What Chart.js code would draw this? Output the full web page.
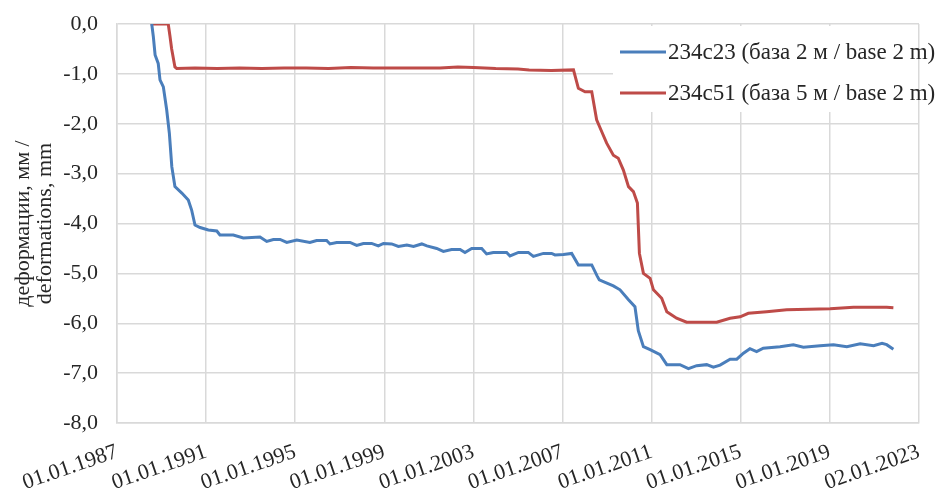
<!DOCTYPE html>
<html>
<head>
<meta charset="utf-8">
<script src="https://cdn.jsdelivr.net/npm/chart.js@4"></script>
<style>
  body { margin: 0; background: #fff; }
  #wrap { width: 941px; height: 490px; position: relative; }
</style>
</head>
<body>
<div id="wrap"><canvas id="chart"></canvas></div>
<script>
// x values are decimal years, y values are deformation in mm
const blueYears = [1988.56, 1988.63, 1988.71, 1988.85, 1988.93, 1989.08, 1989.23, 1989.35, 1989.46, 1989.60,
    1989.91, 1990.20, 1990.35, 1990.50, 1990.73, 1991.10, 1991.48, 1991.62, 1992.22, 1992.67,
    1993.42, 1993.72, 1994.02, 1994.32, 1994.62, 1995.07, 1995.66, 1995.96, 1996.41, 1996.56,
    1996.86, 1997.46, 1997.76, 1998.06, 1998.43, 1998.73, 1998.96, 1999.33, 1999.63, 2000.01,
    2000.31, 2000.68, 2000.91, 2001.35, 2001.65, 2002.02, 2002.40, 2002.62, 2002.92, 2003.37,
    2003.59, 2003.89, 2004.49, 2004.64, 2005.02, 2005.46, 2005.69, 2006.14, 2006.51, 2006.66,
    2007.04, 2007.41, 2007.71, 2008.31, 2008.55, 2008.65, 2008.91, 2009.28, 2009.58, 2009.96,
    2010.25, 2010.40, 2010.63, 2010.93, 2011.38, 2011.68, 2012.27, 2012.65, 2013.02, 2013.47,
    2013.77, 2014.07, 2014.52, 2014.82, 2015.12, 2015.41, 2015.71, 2016.01, 2016.76, 2017.36,
    2017.81, 2018.56, 2019.16, 2019.76, 2020.36, 2020.96, 2021.34, 2021.55, 2021.85];
const blueVals = [0.0, -0.25, -0.62, -0.79, -1.12, -1.26, -1.72, -2.19, -2.86, -3.26,
    -3.39, -3.53, -3.73, -4.03, -4.08, -4.13, -4.15, -4.23, -4.23, -4.29,
    -4.27, -4.36, -4.32, -4.32, -4.38, -4.33, -4.38, -4.34, -4.34, -4.41,
    -4.38, -4.38, -4.44, -4.40, -4.40, -4.45, -4.40, -4.41, -4.46, -4.43,
    -4.46, -4.41, -4.45, -4.50, -4.56, -4.52, -4.52, -4.58, -4.50, -4.50,
    -4.61, -4.58, -4.58, -4.65, -4.58, -4.58, -4.66, -4.60, -4.60, -4.63,
    -4.62, -4.60, -4.83, -4.83, -5.05, -5.13, -5.18, -5.25, -5.33, -5.53,
    -5.67, -6.15, -6.47, -6.53, -6.63, -6.83, -6.83, -6.91, -6.85, -6.83,
    -6.88, -6.84, -6.72, -6.72, -6.60, -6.51, -6.57, -6.50, -6.47, -6.43,
    -6.48, -6.45, -6.43, -6.47, -6.41, -6.45, -6.40, -6.43, -6.52];

const redYears = [1988.51, 1989.30, 1989.38, 1989.45, 1989.60, 1989.68, 1990.5, 1991.5, 1992.5, 1993.5,
    1994.5, 1995.5, 1996.5, 1997.5, 1998.5, 1999.5, 2000.5, 2001.5, 2002.3, 2003.0,
    2004.0, 2005.0, 2005.5, 2006.5, 2007.49, 2007.71, 2008.01, 2008.31, 2008.53, 2008.76,
    2008.98, 2009.28, 2009.50, 2009.73, 2009.96, 2010.18, 2010.36, 2010.45, 2010.63, 2010.93,
    2011.08, 2011.45, 2011.68, 2012.12, 2012.57, 2013.92, 2014.52, 2014.97, 2015.34, 2016.16,
    2017.06, 2019.01, 2020.06, 2021.55, 2021.85];
const redVals = [0.0, 0.0, -0.25, -0.49, -0.86, -0.89, -0.88, -0.89, -0.88, -0.89,
    -0.88, -0.88, -0.89, -0.87, -0.88, -0.88, -0.88, -0.88, -0.86, -0.87,
    -0.89, -0.90, -0.92, -0.93, -0.92, -1.29, -1.36, -1.36, -1.92, -2.16,
    -2.39, -2.63, -2.69, -2.93, -3.26, -3.36, -3.59, -4.60, -5.00, -5.10,
    -5.33, -5.50, -5.77, -5.90, -5.98, -5.98, -5.90, -5.87, -5.80, -5.77,
    -5.73, -5.71, -5.68, -5.68, -5.69];

const xTickYears = [1987, 1991, 1995, 1999, 2003, 2007, 2011, 2015, 2019, 2023];
const xTickLabels = ["01.01.1987", "01.01.1991", "01.01.1995", "01.01.1999", "01.01.2003",
    "01.01.2007", "01.01.2011", "01.01.2015", "01.01.2019", "02.01.2023"];

const seriesLabels = ["234c23 (база 2 м / base 2 m)", "234c51 (база 5 м / base 2 m)"];
const seriesColors = ["#4a7ebb", "#be4b48"];

const toPoints = (xs, ys) => xs.map((x, i) => ({x: x, y: ys[i]}));

Chart.defaults.font.family = "'Liberation Serif', 'Times New Roman', serif";
Chart.defaults.color = "#262626";

// legend drawn inside the plot, top right, on white box
const boxLegend = {
    id: 'boxLegend',
    afterDatasetsDraw(chart) {
        const ctx = chart.ctx;
        const area = chart.chartArea;
        ctx.save();
        ctx.fillStyle = "#fff";
        ctx.fillRect(613, area.top + 2, area.right - 613 - 1, 86);
        ctx.font = "23px 'Liberation Serif'";
        ctx.textBaseline = "middle";
        chart.data.datasets.forEach((ds, i) => {
            const y = area.top + 28 + i * 41;
            ctx.strokeStyle = ds.borderColor;
            ctx.lineWidth = 3;
            ctx.beginPath();
            ctx.moveTo(620, y);
            ctx.lineTo(666, y);
            ctx.stroke();
            ctx.fillStyle = "#262626";
            ctx.fillText(ds.label, 668, y + 1);
        });
        ctx.restore();
    }
};

const ctx = document.getElementById("chart").getContext('2d');
new Chart(ctx, {
    type: 'line',
    data: {
        datasets: [
            {
                label: seriesLabels[0],
                data: toPoints(blueYears, blueVals),
                borderColor: seriesColors[0],
                backgroundColor: seriesColors[0],
                borderWidth: 3,
                pointRadius: 0,
                tension: 0,
            },
            {
                label: seriesLabels[1],
                data: toPoints(redYears, redVals),
                borderColor: seriesColors[1],
                backgroundColor: seriesColors[1],
                borderWidth: 3,
                pointRadius: 0,
                tension: 0,
            },
        ]
    },
    options: {
        responsive: true,
        maintainAspectRatio: false,
        animation: false,
        layout: { padding: { top: 24, right: 22, left: 0, bottom: 0 } },
        plugins: {
            legend: { display: false },
            tooltip: { enabled: false },
        },
        scales: {
            x: {
                type: 'linear',
                min: 1987,
                max: 2023,
                afterBuildTicks: scale => {
                    scale.ticks = xTickYears.map(v => ({value: v}));
                },
                afterFit: scale => {
                    scale.height = 67;
                    scale.paddingLeft = 0;
                    scale.paddingRight = 0;
                },
                grid: { color: "#d9d9d9", lineWidth: 1.5, drawTicks: false },
                border: { color: "#d9d9d9", width: 1.5 },
                ticks: {
                    minRotation: 19,
                    maxRotation: 19,
                    autoSkip: false,
                    padding: 16,
                    font: { size: 22 },
                    callback: function(value, index) {
                        return xTickLabels[index];
                    }
                }
            },
            y: {
                min: -8,
                max: 0,
                afterFit: scale => {
                    scale.width = 117;
                    scale.paddingTop = 0;
                    scale.paddingBottom = 0;
                },
                grid: { color: "#d9d9d9", lineWidth: 1.5, drawTicks: false },
                border: { color: "#d9d9d9", width: 1.5 },
                ticks: {
                    stepSize: 1,
                    padding: 19,
                    font: { size: 22 },
                    callback: v => v.toFixed(1).replace('.', ',')
                },
                title: {
                    display: true,
                    text: ["деформации, мм /", "deformations, mm"],
                    font: { size: 22, lineHeight: 1.0 },
                    padding: { top: 12, bottom: 0 }
                }
            }
        }
    },
    plugins: [boxLegend]
});
</script>
</body>
</html>
